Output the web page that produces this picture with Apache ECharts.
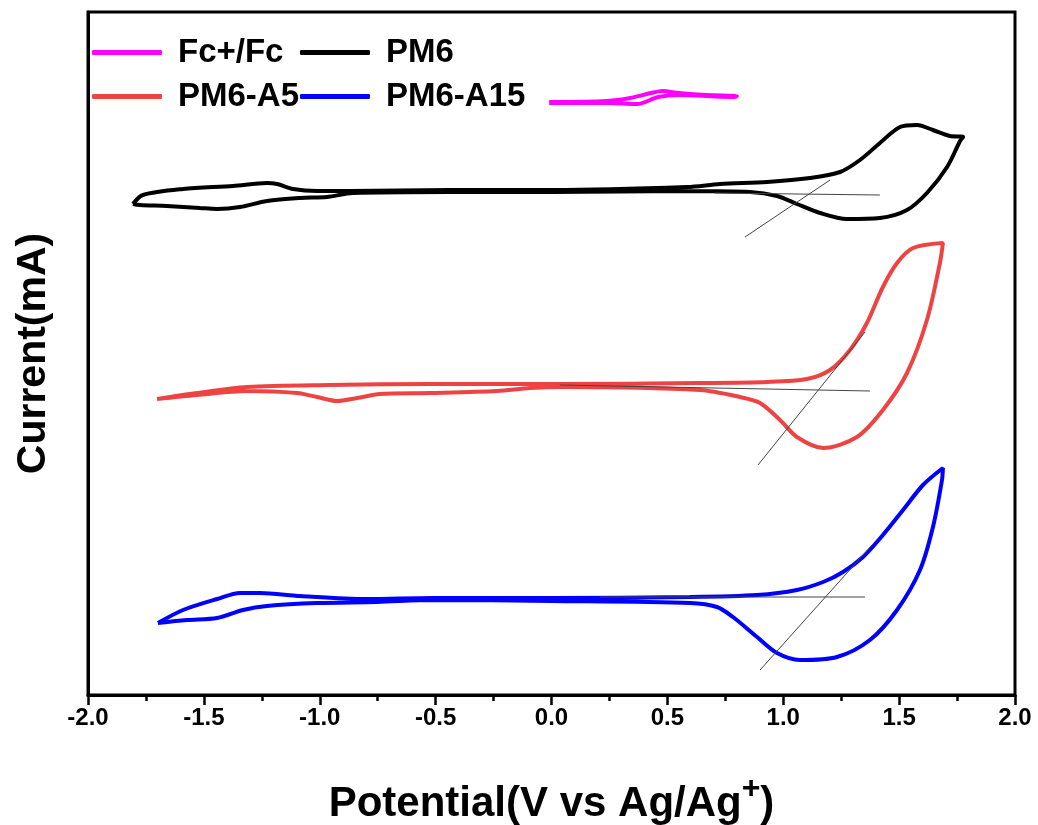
<!DOCTYPE html>
<html>
<head>
<meta charset="utf-8">
<title>CV curves</title>
<script src="https://cdn.jsdelivr.net/npm/echarts@6/dist/echarts.min.js"></script>
<style>
  html, body { margin: 0; padding: 0; background: #fff; }
  #chart { width: 1038px; height: 825px; }
</style>
</head>
<body>
<div id="chart"></div>
<script>
// potential (V vs Ag/Ag+), current (arbitrary offset units, no y ticks in the figure)
var fcLoop = [
  [-0.01, 5.93], [0.24, 5.94], [0.34, 5.97], [0.43, 6.02], [0.48, 6.04], [0.55, 6.02],
  [0.67, 6.00], [0.80, 5.99], [0.79, 5.98], [0.55, 6.00], [0.46, 5.98], [0.37, 5.91],
  [0.24, 5.92], [-0.01, 5.92]
];
var pm6Loop = [
  [-1.806, 4.91], [-1.763, 5.00], [-1.590, 5.06], [-1.374, 5.09], [-1.228, 5.12], [-1.184, 5.11],
  [-1.115, 5.06], [-1.012, 5.04], [-0.869, 5.04], [-0.438, 5.05], [0.0, 5.05], [0.585, 5.08],
  [0.727, 5.11], [0.930, 5.13], [1.115, 5.17], [1.245, 5.23], [1.331, 5.35], [1.417, 5.52],
  [1.504, 5.68], [1.577, 5.70], [1.646, 5.65], [1.720, 5.59], [1.776, 5.58],
  [1.763, 5.54], [1.707, 5.28], [1.620, 5.02], [1.534, 4.85], [1.417, 4.77], [1.275, 4.76],
  [1.159, 4.82], [1.059, 4.91], [0.973, 4.99], [0.857, 5.03], [0.585, 5.04], [0.0, 5.03],
  [-0.438, 5.03], [-0.857, 5.02], [-0.969, 4.98], [-1.085, 4.97], [-1.228, 4.94], [-1.344, 4.88],
  [-1.443, 4.86], [-1.517, 4.87], [-1.660, 4.89], [-1.776, 4.90], [-1.806, 4.91]
];
var pm6A5Loop = [
  [-1.702, 2.96], [-1.530, 3.02], [-1.314, 3.08], [-0.956, 3.10], [-0.524, 3.11], [0.0, 3.11],
  [0.641, 3.12], [0.930, 3.13], [1.102, 3.16], [1.202, 3.25], [1.288, 3.45], [1.361, 3.72],
  [1.430, 4.08], [1.491, 4.32], [1.560, 4.47], [1.689, 4.52],
  [1.676, 4.32], [1.620, 3.75], [1.534, 3.22], [1.430, 2.85], [1.318, 2.58], [1.172, 2.47],
  [1.059, 2.58], [0.986, 2.75], [0.900, 2.92], [0.813, 2.98], [0.641, 3.05], [0.050, 3.08],
  [-0.093, 3.07], [-0.235, 3.04], [-0.524, 3.02], [-0.740, 3.01], [-0.839, 2.97], [-0.926, 2.94],
  [-1.012, 2.98], [-1.098, 3.02], [-1.314, 3.04], [-1.530, 3.00], [-1.702, 2.96]
];
var pm6A15Loop = [
  [-1.698, 0.72], [-1.590, 0.85], [-1.443, 0.96], [-1.344, 1.02], [-1.258, 1.02], [-1.085, 0.99],
  [-0.796, 0.96], [-0.511, 0.97], [0.0, 0.97], [0.598, 0.98], [0.887, 1.00], [1.059, 1.05],
  [1.172, 1.13], [1.258, 1.23], [1.344, 1.38], [1.430, 1.60], [1.517, 1.85], [1.603, 2.10],
  [1.689, 2.27],
  [1.685, 2.15], [1.646, 1.68], [1.590, 1.25], [1.491, 0.85], [1.374, 0.55], [1.232, 0.38],
  [1.072, 0.35], [0.973, 0.42], [0.887, 0.58], [0.783, 0.78], [0.714, 0.88], [0.598, 0.92],
  [0.0, 0.94], [-0.511, 0.95], [-0.753, 0.93], [-1.012, 0.92], [-1.228, 0.89], [-1.331, 0.85],
  [-1.443, 0.77], [-1.573, 0.75], [-1.698, 0.72]
];
// onset tangent lines
var pm6Base = [[0.705, 5.02], [1.417, 5.00]];
var pm6Slope = [[0.835, 4.58], [1.202, 5.15]];
var a5Base = [[0.037, 3.10], [1.374, 3.04]];
var a5Slope = [[0.891, 2.30], [1.353, 3.63]];
var a15Base = [[0.209, 0.98], [1.353, 0.98]];
var a15Slope = [[0.900, 0.25], [1.383, 1.50]];

var names = ['Fc+/Fc', 'PM6', 'PM6-A5', 'PM6-A15'];
var colors = ['#FF00FF', '#000000', '#EE4343', '#0000FF'];
var loops = [fcLoop, pm6Loop, pm6A5Loop, pm6A15Loop];
var tangents = [pm6Base, pm6Slope, a5Base, a5Slope, a15Base, a15Slope];

var font = 'Arial, "Liberation Sans", sans-serif';
var chart = echarts.init(document.getElementById('chart'));

var series = loops.map(function (d, i) {
  return {
    name: names[i], type: 'line', data: d, smooth: 0.3,
    showSymbol: false, symbol: 'none',
    lineStyle: { color: colors[i], width: 4 },
    itemStyle: { color: colors[i] }
  };
});
tangents.forEach(function (d, i) {
  series.push({
    name: 'tangent' + i, type: 'line', data: d, symbol: 'none', silent: true,
    lineStyle: { color: '#444', width: 1 }, z: 3
  });
});

// one legend per item so the 2x2 layout matches
var legendPos = [[92, 36], [300, 36], [92, 80], [300, 80]];
var legends = names.map(function (n, i) {
  return {
    data: [n], left: legendPos[i][0], top: legendPos[i][1], padding: 0,
    icon: 'roundRect', itemWidth: 70, itemHeight: 5,
    textStyle: { fontFamily: font, fontWeight: 'bold', fontSize: 33, color: '#000', padding: [0, 0, 0, 11] }
  };
});

chart.setOption({
  animation: false,
  backgroundColor: '#fff',
  legend: legends,
  grid: {
    left: 88, right: 23, top: 12, bottom: 130, outerBoundsMode: 'none',
    show: true, borderColor: '#000', borderWidth: 3
  },
  xAxis: {
    type: 'value', min: -2, max: 2, interval: 0.5,
    name: '{a|Potential(V vs Ag/Ag}{s|+}{a|)}', nameLocation: 'middle', nameGap: 78,
    nameTextStyle: {
      rich: {
        a: { fontFamily: font, fontWeight: 'bold', fontSize: 42, color: '#000', verticalAlign: 'bottom' },
        s: { fontFamily: font, fontWeight: 'bold', fontSize: 32, color: '#000', verticalAlign: 'bottom', padding: [0, 0, 20, 0] }
      }
    },
    axisLine: { onZero: false, lineStyle: { color: '#000', width: 3 } },
    axisTick: { inside: false, length: 10, lineStyle: { width: 2.5, color: '#000' } },
    minorTick: { show: true, splitNumber: 2, length: 6, lineStyle: { width: 2.5, color: '#000' } },
    splitLine: { show: false },
    axisLabel: {
      margin: 11, fontFamily: font, fontWeight: 'bold', fontSize: 24, color: '#000',
      formatter: function (v) { return v.toFixed(1); }
    }
  },
  yAxis: {
    type: 'value', min: 0, max: 6.83,
    name: 'Current(mA)', nameLocation: 'middle', nameGap: 34,
    nameTextStyle: { fontFamily: font, fontWeight: 'bold', fontSize: 41, color: '#000' },
    axisLine: { show: true, onZero: false, lineStyle: { color: '#000', width: 3 } },
    axisTick: { show: false },
    axisLabel: { show: false },
    splitLine: { show: false }
  },
  series: series
});
</script>
</body>
</html>
